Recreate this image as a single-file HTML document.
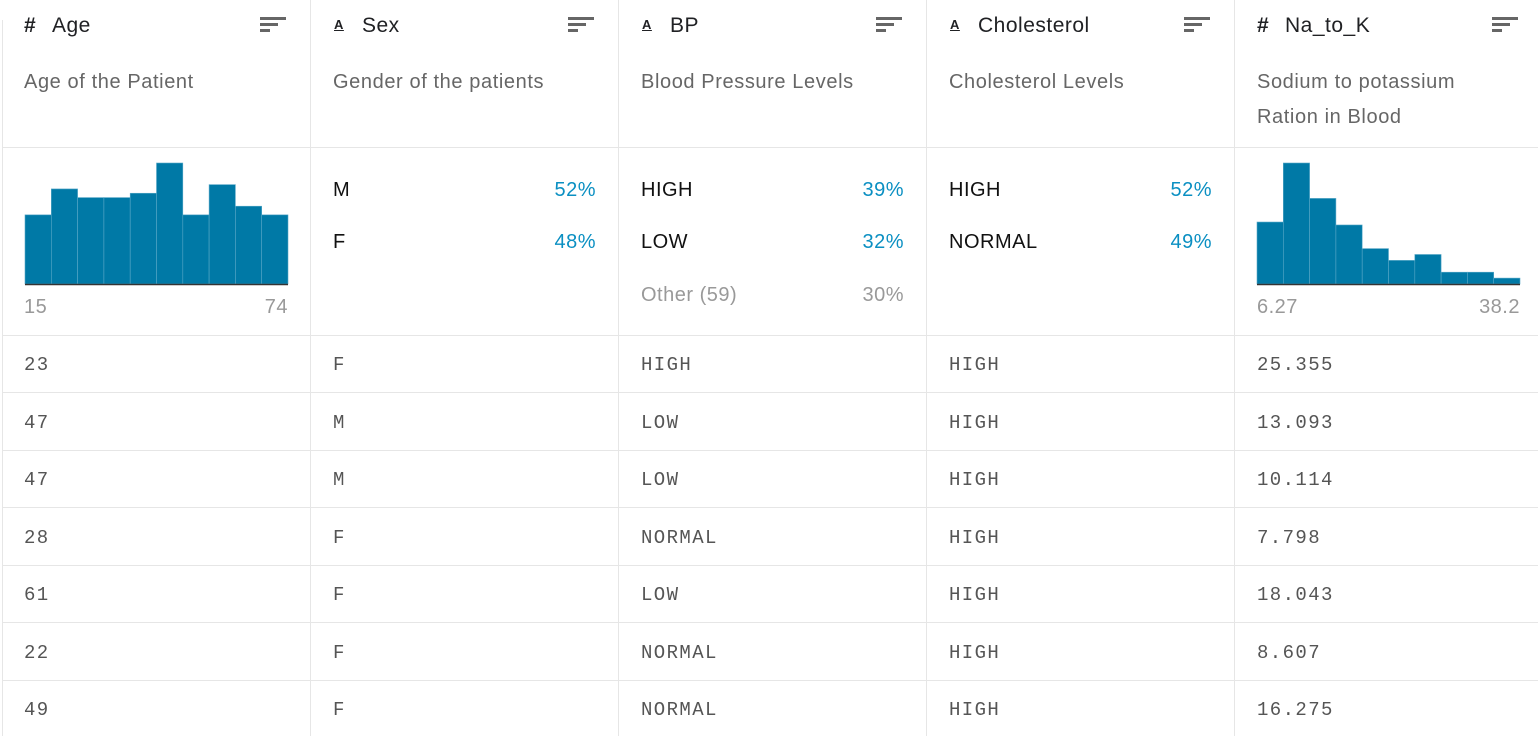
<!DOCTYPE html>
<html><head><meta charset="utf-8"><style>
html,body{margin:0;width:1538px;height:736px;overflow:hidden}
body{background:#fff;font-family:"Liberation Sans",sans-serif;position:relative}
.abs{position:absolute}
.vl{position:absolute;top:0;width:1px;height:736px;background:#e6e6e6}
.hl{position:absolute;left:2px;width:1536px;height:1px;background:#e6e6e6}
.title{position:absolute;top:14px;font-size:21px;color:#202124;letter-spacing:0.5px}
.title .ic{display:inline-block;width:28px;font-size:21px;font-weight:bold}
.title .ia{display:inline-block;width:28px;font-size:13px;font-weight:bold;text-decoration:underline;vertical-align:3px}
.desc{position:absolute;top:65px;font-size:20px;color:#666;line-height:35px;width:240px;letter-spacing:0.6px}
.sort{position:absolute;top:17px;width:26px;height:16px}
.sort i{position:absolute;left:0;height:2.5px;background:#666}
.cat{position:absolute;font-size:20px;color:#111;letter-spacing:0.5px}
.pct{position:absolute;font-size:20px;color:#0a8fc2;text-align:right;width:80px;letter-spacing:0.5px}
.mono{position:absolute;font-family:"Liberation Mono",monospace;font-size:19px;color:#555;letter-spacing:1.4px}
.ax{position:absolute;top:296px;font-size:20px;color:#999;letter-spacing:0.5px}
</style></head><body>
<div class="vl" style="left:2px;top:20px;height:716px"></div>
<div class="vl" style="left:310px"></div>
<div class="vl" style="left:618px"></div>
<div class="vl" style="left:926px"></div>
<div class="vl" style="left:1234px"></div>
<div class="hl" style="top:147px"></div>
<div class="hl" style="top:335px"></div>
<div class="hl" style="top:392px"></div>
<div class="hl" style="top:450px"></div>
<div class="hl" style="top:507px"></div>
<div class="hl" style="top:565px"></div>
<div class="hl" style="top:622px"></div>
<div class="hl" style="top:680px"></div>

<div class="title" style="left:24px"><span class="ic">#</span>Age</div>
<div class="title" style="left:334px"><span class="ia">A</span>Sex</div>
<div class="title" style="left:642px"><span class="ia">A</span>BP</div>
<div class="title" style="left:950px"><span class="ia">A</span>Cholesterol</div>
<div class="title" style="left:1257px"><span class="ic">#</span>Na_to_K</div>

<div class="sort" style="left:260px"><i style="top:0;width:26px"></i><i style="top:6px;width:18px"></i><i style="top:12px;width:10px"></i></div>
<div class="sort" style="left:568px"><i style="top:0;width:26px"></i><i style="top:6px;width:18px"></i><i style="top:12px;width:10px"></i></div>
<div class="sort" style="left:876px"><i style="top:0;width:26px"></i><i style="top:6px;width:18px"></i><i style="top:12px;width:10px"></i></div>
<div class="sort" style="left:1184px"><i style="top:0;width:26px"></i><i style="top:6px;width:18px"></i><i style="top:12px;width:10px"></i></div>
<div class="sort" style="left:1492px"><i style="top:0;width:26px"></i><i style="top:6px;width:18px"></i><i style="top:12px;width:10px"></i></div>

<div class="desc" style="left:24px">Age of the Patient</div>
<div class="desc" style="left:333px">Gender of the patients</div>
<div class="desc" style="left:641px">Blood Pressure Levels</div>
<div class="desc" style="left:949px">Cholesterol Levels</div>
<div class="desc" style="left:1257px">Sodium to potassium<br>Ration in Blood</div>

<svg class="abs" style="left:0;top:150px" width="1538" height="140" id="hist"></svg>
<div class="ax" style="left:24px">15</div>
<div class="ax" style="left:208px;width:80px;text-align:right">74</div>
<div class="ax" style="left:1257px">6.27</div>
<div class="ax" style="left:1440px;width:80px;text-align:right">38.2</div>

<div class="cat" style="left:333px;top:179px">M</div>
<div class="pct" style="left:516px;top:179px">52%</div>
<div class="cat" style="left:333px;top:231px">F</div>
<div class="pct" style="left:516px;top:231px">48%</div>
<div class="cat" style="left:641px;top:179px">HIGH</div>
<div class="pct" style="left:824px;top:179px">39%</div>
<div class="cat" style="left:641px;top:231px">LOW</div>
<div class="pct" style="left:824px;top:231px">32%</div>
<div class="cat" style="left:641px;top:284px;color:#999">Other (59)</div>
<div class="pct" style="left:824px;top:284px;color:#999">30%</div>
<div class="cat" style="left:949px;top:179px">HIGH</div>
<div class="pct" style="left:1132px;top:179px">52%</div>
<div class="cat" style="left:949px;top:231px">NORMAL</div>
<div class="pct" style="left:1132px;top:231px">49%</div>

<div id="rows"></div>
<script>
const ageCounts=[16,22,20,20,21,28,16,23,18,16];
const naCounts=[21,41,29,20,12,8,10,4,4,2];
const rowsData=[["23","F","HIGH","HIGH","25.355"],["47","M","LOW","HIGH","13.093"],["47","M","LOW","HIGH","10.114"],["28","F","NORMAL","HIGH","7.798"],["61","F","LOW","HIGH","18.043"],["22","F","NORMAL","HIGH","8.607"],["49","F","NORMAL","HIGH","16.275"]];
const NS="http://www.w3.org/2000/svg";
const svg=document.getElementById('hist');
function drawHist(counts,x0,x1,name){
  const base=134, mx=Math.max(...counts), w=(x1-x0)/counts.length;
  counts.forEach((c,i)=>{
    const h=c/mx*121;
    const r=document.createElementNS(NS,'rect');
    r.setAttribute('x',x0+i*w);r.setAttribute('y',base-h);
    r.setAttribute('width',w);r.setAttribute('height',h);
    r.setAttribute('fill','#0079a6');r.setAttribute('stroke','#5aa9c8');r.setAttribute('stroke-width','0.6');
    
    
    svg.appendChild(r);
  });
  const l=document.createElementNS(NS,'line');
  l.setAttribute('x1',x0);l.setAttribute('x2',x1);l.setAttribute('y1',base+0.5);l.setAttribute('y2',base+0.5);
  l.setAttribute('stroke','#333');l.setAttribute('stroke-width','1.5');
  
  
  svg.appendChild(l);
}
drawHist(ageCounts,25,288,'age-hist');
drawHist(naCounts,1257,1520,'na-to-k-hist');
const rows=document.getElementById('rows');
const lefts=[24,333,641,949,1257];
const cols=['age','sex','bp','cholesterol','na-to-k'];
rowsData.forEach((r,i)=>{
  r.forEach((v,j)=>{
    const d=document.createElement('div');
    d.className='mono';
    d.style.left=lefts[j]+'px';
    d.style.top=(354+i*57.5)+'px';
    d.textContent=v;
    
    
    rows.appendChild(d);
  });
});
</script>
</body></html>
